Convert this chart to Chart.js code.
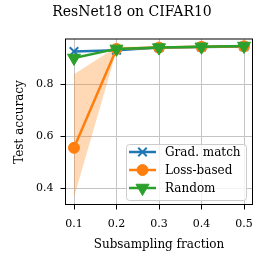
<!DOCTYPE html>
<html>
<head>
<meta charset="utf-8">
<script src="https://cdn.jsdelivr.net/npm/chart.js@4.4.1/dist/chart.umd.min.js"></script>
<style>
  html,body{margin:0;padding:0;background:#fff;}
  #wrap{width:265px;height:265px;position:relative;}
</style>
</head>
<body>
<div id="wrap"><canvas id="c"></canvas></div>
<script>
// data
const fractions = [0.1, 0.2, 0.3, 0.4, 0.5];
const gradMatch = [0.925, 0.93, 0.94, 0.942, 0.944];
const lossBased = [0.555, 0.935, 0.94, 0.943, 0.945];
const lossLow   = [0.366, 0.928, 0.935, 0.938, 0.94];
const lossHigh  = [0.838, 0.942, 0.945, 0.947, 0.95];
const randomSel = [0.9, 0.935, 0.94, 0.943, 0.946];
const xTicks = [0.1, 0.2, 0.3, 0.4, 0.5];
const yTicks = [0.4, 0.6, 0.8];

const BLUE = '#1f77b4', ORANGE = '#ff7f0e', GREEN = '#2ca02c';
const FONT = "'DejaVu Serif', serif";

const pts = arr => fractions.map((x,i)=>({x, y:arr[i]}));

// marker looks, shared by plot and legend
const MARK = {
  grad:   {style:'crossRot', radius:6,   rot:0,   bw:2},
  loss:   {style:'circle',   radius:5.5, rot:0,   bw:1},
  random: {style:'triangle', radius:7.5, rot:180, bw:1}
};

const legendItems = [
  {label:'Grad. match', color:BLUE, m:MARK.grad},
  {label:'Loss-based', color:ORANGE, m:MARK.loss},
  {label:'Random', color:GREEN, m:MARK.random}
];

const decor = {
  id:'decor',
  afterDraw(chart){
    const ctx = chart.ctx, a = chart.chartArea;
    ctx.save();
    // top / right frame
    ctx.strokeStyle = '#000'; ctx.lineWidth = 1;
    ctx.strokeRect(a.left, a.top, a.right-a.left, a.bottom-a.top);
    // legend
    const lx = 126, ly = 144, lw = 120, lh = 56;
    ctx.fillStyle = 'rgba(255,255,255,0.8)';
    ctx.strokeStyle = '#cccccc';
    ctx.lineWidth = 1;
    ctx.beginPath();
    ctx.roundRect(lx+0.5, ly+0.5, lw, lh, 3);
    ctx.fill(); ctx.stroke();
    ctx.font = '12px ' + FONT;
    ctx.textBaseline = 'middle';
    ctx.textAlign = 'left';
    legendItems.forEach((it,i)=>{
      const y = 152 + i*18;
      ctx.strokeStyle = it.color; ctx.lineWidth = 2.5;
      ctx.beginPath(); ctx.moveTo(129, y); ctx.lineTo(156, y); ctx.stroke();
      ctx.fillStyle = it.color;
      ctx.lineWidth = it.m.bw;
      Chart.helpers.drawPoint(ctx, {pointStyle:it.m.style, radius:it.m.radius, rotation:it.m.rot, borderWidth:it.m.bw}, 142.5, y);
      ctx.fillStyle = '#000';
      ctx.fillText(it.label, 165, y+0.5);
    });
    // titles
    ctx.fillStyle = '#000';
    ctx.textAlign = 'center';
    ctx.font = '14px ' + FONT;
    ctx.fillText('ResNet18 on CIFAR10', 132, 12);
    ctx.font = '12px ' + FONT;
    ctx.fillText('Subsampling fraction', 159, 245);
    ctx.translate(20, 122);
    ctx.rotate(-Math.PI/2);
    ctx.fillText('Test accuracy', 0, 0);
    ctx.restore();
  }
};

const lineSet = (label, data, color, m, order) => ({
  label, data: pts(data), borderColor: color, backgroundColor: color,
  borderWidth: 2.5, pointStyle: m.style, pointRadius: m.radius, pointRotation: m.rot,
  pointBorderWidth: m.bw, pointBorderColor: color, pointBackgroundColor: color,
  fill: false, order
});

new Chart(document.getElementById('c'), {
  type: 'line',
  data: {
    datasets: [
      {label:'low', data: pts(lossLow), borderWidth:0, pointRadius:0, fill:false, order:10},
      {label:'high', data: pts(lossHigh), borderWidth:0, pointRadius:0, fill:'-1',
       backgroundColor:'rgba(255,127,14,0.3)', order:9},
      lineSet('Grad. match', gradMatch, BLUE, MARK.grad, 3),
      lineSet('Loss-based', lossBased, ORANGE, MARK.loss, 2),
      lineSet('Random', randomSel, GREEN, MARK.random, 1)
    ]
  },
  options: {
    responsive: true,
    maintainAspectRatio: false,
    animation: false,
    layout: {padding: {left: 25.5, top: 39, right: 12.5, bottom: 0.5}},
    plugins: {legend: {display:false}, title:{display:false}, tooltip:{enabled:false}},
    scales: {
      x: {
        type: 'linear', min: 0.08, max: 0.52,
        afterBuildTicks: s => { s.ticks = xTicks.map(v=>({value:v})); },
        afterFit: s => { s.height = 60; },
        ticks: {color:'#000', font:{family:FONT, size:11}, padding:8, maxRotation:0,
                callback: v => v.toFixed(1)},
        grid: {color:'#c4c4c4', lineWidth:1, tickColor:'#000', tickLength:5},
        border: {display:true, color:'#000', width:1}
      },
      y: {
        type: 'linear', min: 0.337, max: 0.973,
        afterBuildTicks: s => { s.ticks = yTicks.map(v=>({value:v})); },
        afterFit: s => { s.width = 40; },
        ticks: {color:'#000', font:{family:FONT, size:11}, padding:7,
                callback: v => v.toFixed(1)},
        grid: {color:'#c4c4c4', lineWidth:1, tickColor:'#000', tickLength:5},
        border: {display:true, color:'#000', width:1}
      }
    }
  },
  plugins: [decor]
});
</script>
</body>
</html>
